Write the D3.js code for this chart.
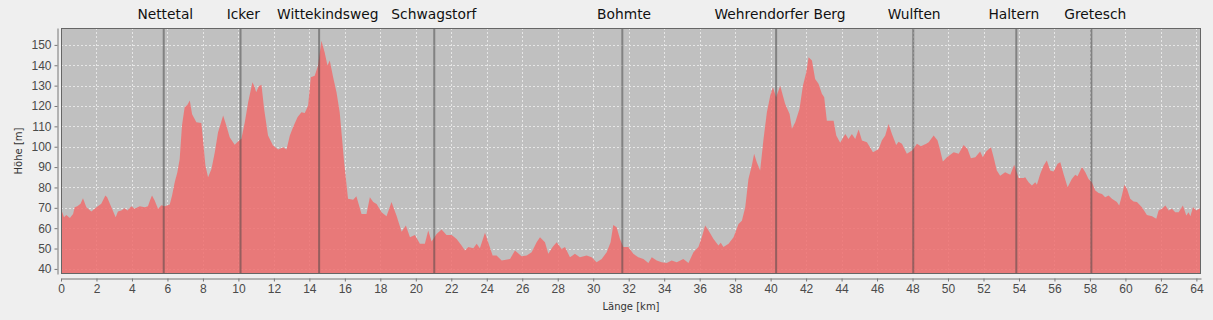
<!DOCTYPE html>
<html>
<head>
<meta charset="utf-8">
<script src="https://cdn.jsdelivr.net/npm/d3@7"></script>
<style>
body { margin: 0; background: #efefef; }
svg { display: block; font-family: "DejaVu Sans", sans-serif; }
.axis text { fill: #4a4a4a; font-size: 12px; }
.axis path, .axis line { stroke: #777; }
</style>
</head>
<body>
<svg width="1213" height="320"></svg>
<script>
var svg = d3.select("svg"),
width = +svg.attr("width"),
height = +svg.attr("height");

// profile: distance [km] / elevation [m]
let km = [0, 0.17, 0.3, 0.5, 0.68, 0.77, 0.92, 1.1, 1.24, 1.43, 1.71, 2.0, 2.27, 2.5, 2.6, 2.84, 3.08, 3.21, 3.4, 3.59, 3.74, 3.97, 4.15, 4.44, 4.72, 4.9, 5.03, 5.13, 5.28, 5.47, 5.66, 5.85, 6.13, 6.26, 6.41, 6.56, 6.69, 6.82, 6.97, 7.12, 7.26, 7.39, 7.63, 7.91, 8.0, 8.14, 8.29, 8.48, 8.67, 8.85, 9.14, 9.32, 9.51, 9.79, 10.04, 10.17, 10.36, 10.55, 10.79, 10.92, 11.0, 11.15, 11.3, 11.45, 11.67, 11.95, 12.24, 12.52, 12.71, 12.9, 13.08, 13.33, 13.55, 13.74, 13.93, 14.08, 14.3, 14.49, 14.68, 14.86, 15.02, 15.15, 15.34, 15.53, 15.71, 15.96, 16.18, 16.47, 16.65, 16.94, 17.22, 17.41, 17.6, 17.79, 18.07, 18.35, 18.63, 18.91, 19.2, 19.44, 19.67, 19.95, 20.23, 20.51, 20.7, 20.89, 21.17, 21.45, 21.73, 22.02, 22.3, 22.58, 22.77, 22.96, 23.24, 23.43, 23.61, 23.9, 24.08, 24.33, 24.55, 24.84, 25.31, 25.59, 25.96, 26.25, 26.53, 26.81, 27.0, 27.28, 27.47, 27.71, 27.94, 28.22, 28.41, 28.69, 28.97, 29.25, 29.63, 29.91, 30.19, 30.48, 30.76, 30.98, 31.13, 31.32, 31.51, 31.7, 31.98, 32.26, 32.54, 32.83, 33.11, 33.3, 33.58, 33.86, 34.14, 34.42, 34.71, 35.08, 35.37, 35.65, 35.93, 36.12, 36.31, 36.5, 36.78, 37.06, 37.19, 37.34, 37.63, 37.91, 38.19, 38.38, 38.57, 38.75, 38.94, 39.07, 39.22, 39.41, 39.6, 39.79, 39.98, 40.13, 40.31, 40.54, 40.82, 41.07, 41.2, 41.39, 41.63, 41.82, 42.01, 42.14, 42.33, 42.51, 42.7, 42.89, 43.02, 43.17, 43.36, 43.55, 43.7, 43.92, 44.21, 44.39, 44.58, 44.77, 44.96, 45.15, 45.43, 45.77, 46.09, 46.27, 46.46, 46.65, 46.84, 47.08, 47.21, 47.4, 47.68, 47.97, 48.25, 48.47, 48.77, 48.91, 49.19, 49.41, 49.56, 49.71, 49.94, 50.32, 50.6, 50.88, 51.1, 51.29, 51.54, 51.81, 51.96, 52.15, 52.42, 52.57, 52.75, 52.94, 53.22, 53.51, 53.73, 53.98, 54.26, 54.35, 54.54, 54.73, 54.92, 55.01, 55.2, 55.39, 55.57, 55.76, 55.95, 56.18, 56.33, 56.51, 56.74, 56.98, 57.17, 57.3, 57.55, 57.74, 57.92, 58.11, 58.3, 58.49, 58.68, 58.86, 59.05, 59.24, 59.52, 59.65, 59.8, 59.94, 60.09, 60.27, 60.46, 60.65, 60.93, 61.21, 61.5, 61.74, 61.87, 62.06, 62.25, 62.44, 62.62, 62.81, 63.0, 63.24, 63.43, 63.56, 63.66, 63.81, 64.0, 64.26];
let elev = [69.5, 65.4, 66.5, 65, 67, 70.3, 70.8, 72, 74.7, 70.3, 68.2, 70.3, 72, 76, 75.2, 70.3, 65.4, 68.2, 68.7, 69.8, 68.7, 70.8, 69.5, 70.8, 70.3, 70.8, 74, 76, 73.6, 69.5, 71.2, 70.8, 71.6, 76, 82.6, 87.5, 94, 110.4, 119.4, 120.5, 122.7, 116, 112, 111.7, 103.9, 90.8, 85, 89, 97.3, 107, 115.3, 110.4, 104.7, 101, 103, 103.9, 112, 121.9, 131.7, 129.2, 126.8, 129.7, 130.4, 118.5, 105.5, 100.6, 98.6, 99.8, 98.6, 105.5, 109.6, 114.5, 116.9, 116.6, 120.2, 134.1, 134.9, 139.9, 152.1, 146.4, 139.9, 142.3, 134.1, 126.8, 116.9, 92.4, 74.4, 74, 75.7, 67, 67, 75.2, 72.8, 71.9, 67.8, 65.9, 72.8, 66.2, 58.3, 61.3, 55.6, 56.7, 52.3, 52.3, 58.8, 53.4, 57.2, 59.3, 56.7, 56.7, 54.7, 51.5, 49, 50.7, 50.2, 52.3, 50.2, 57.7, 53.1, 46.6, 46.6, 44.1, 44.9, 49, 46.2, 46.6, 48.2, 53.1, 55.6, 53.1, 47.4, 50.7, 53.1, 49.8, 50.7, 45.7, 47.4, 45.7, 46.6, 45.7, 43.3, 44.9, 48.2, 53.1, 61.6, 60.5, 54.7, 50.7, 50.7, 47.4, 45.7, 44.9, 42.9, 45.7, 44.1, 43.3, 42.9, 44.1, 43.3, 44.9, 42.9, 48.2, 50.7, 55.6, 61.3, 58.8, 54.7, 51.5, 52.8, 50.7, 52.3, 55.6, 62.1, 63.7, 70.3, 84.2, 90.8, 96.5, 92.4, 88.3, 103.8, 116.9, 125.1, 129.2, 124.3, 130, 121, 116.1, 108.8, 112, 118.6, 130, 136.6, 143.9, 142.3, 133.3, 130.9, 126, 124.3, 112.8, 112.8, 112.8, 105.5, 101.9, 106.3, 103.8, 106.3, 103.8, 108.5, 103, 102.2, 97.3, 98.9, 103, 105.5, 111.2, 106.3, 100.9, 102.5, 101.4, 96.5, 98.1, 101.4, 100.2, 101.4, 102.2, 105.5, 103, 98.1, 92.7, 94.8, 97.3, 96.5, 100.9, 98.9, 94.4, 94.8, 97.6, 94.8, 97.6, 99.8, 94.8, 88.3, 85.8, 87.5, 86.2, 91.1, 84.6, 84.6, 85, 82.6, 80.9, 82.6, 81.3, 86.7, 90.8, 93.2, 88.3, 87.8, 91.6, 92.4, 86.7, 80.1, 84.2, 86.2, 85.5, 90, 87.5, 84.2, 82.6, 78.5, 77.3, 76.8, 75.2, 76, 74.4, 72.8, 71.1, 76, 81.3, 79.3, 74.4, 73.1, 72.8, 70.3, 66.5, 65.9, 64.6, 68.7, 69.5, 71.1, 68.7, 69.5, 67.8, 67.8, 71.1, 66.2, 67.8, 65.9, 70.3, 68.7, 70];

// waypoints: marker position and where the name is centred [km]
let placeNames = ["Nettetal", "Icker", "Wittekindsweg", "Schwagstorf", "Bohmte", "Wehrendorfer Berg", "Wulften", "Haltern", "Gretesch"];
let placeKm = [5.79, 10.12, 14.55, 21.04, 31.64, 40.31, 48.04, 53.85, 58.08];
let placeLabelKm = [5.88, 10.28, 15.04, 21.02, 31.74, 40.53, 48.09, 53.71, 58.3];

let yTicks = d3.range(40, 151, 10);
let xTicks = d3.range(0, 65, 2);

let profile = km.map((k, i) => ({ km: k, elev: elev[i] }));
let places = placeNames.map((n, i) => ({ name: n, km: placeKm[i], labelKm: placeLabelKm[i] }));

let plot = { left: 61, top: 28, right: 1201, bottom: 274 };

let x = d3.scaleLinear().domain([0, 64.26]).range([plot.left, plot.right]);
let y = d3.scaleLinear().domain([37.5, 158.3]).range([plot.bottom, plot.top]);

svg.append("rect")
.attr("width", width).attr("height", height)
.attr("fill", "#efefef");

svg.append("rect")
.attr("x", plot.left).attr("y", plot.top)
.attr("width", plot.right - plot.left).attr("height", plot.bottom - plot.top)
.attr("fill", "#c0c0c0");

// grid
let grid = svg.append("g")
.attr("stroke", "#e6e6e6")
.attr("stroke-dasharray", "2,2")
.attr("stroke-width", 1);
grid.selectAll(".gy").data(yTicks).enter().append("line")
.attr("x1", plot.left).attr("x2", plot.right)
.attr("y1", d => Math.round(y(d)) + 0.5).attr("y2", d => Math.round(y(d)) + 0.5);
grid.selectAll(".gx").data(xTicks).enter().append("line")
.attr("y1", plot.top).attr("y2", plot.bottom)
.attr("x1", d => Math.round(x(d)) + 0.5).attr("x2", d => Math.round(x(d)) + 0.5);

// elevation area
let area = d3.area()
.x(d => x(d.km))
.y0(plot.bottom)
.y1(d => y(d.elev));

svg.append("path")
.datum(profile)
.attr("d", area)
.attr("fill", "#ef6e6e")
.attr("fill-opacity", 0.86);

// waypoint markers
svg.append("g").selectAll("line")
.data(places).enter().append("line")
.attr("x1", d => x(d.km)).attr("x2", d => x(d.km))
.attr("y1", plot.top).attr("y2", plot.bottom)
.attr("stroke", "#444")
.attr("stroke-opacity", 0.5)
.attr("stroke-width", 2);

svg.append("g").selectAll("text")
.data(places).enter().append("text")
.attr("x", d => x(d.labelKm))
.attr("y", 19)
.attr("text-anchor", "middle")
.attr("font-size", "13.8px")
.attr("fill", "#111")
.text(d => d.name);

// plot border
svg.append("rect")
.attr("x", plot.left + 0.5).attr("y", plot.top + 0.5)
.attr("width", plot.right - plot.left - 1).attr("height", plot.bottom - plot.top - 1)
.attr("fill", "none")
.attr("stroke", "#666");

// axes
let yAxis = d3.axisLeft(y).tickValues(yTicks).tickSizeInner(3).tickSizeOuter(0).tickPadding(3);
svg.append("g")
.attr("class", "axis")
.attr("transform", translate(57.5, 0))
.call(yAxis);

let xAxis = d3.axisBottom(x).tickValues(xTicks).tickSizeInner(3).tickSizeOuter(0).tickPadding(3);
svg.append("g")
.attr("class", "axis")
.attr("transform", translate(0, 278.5))
.call(xAxis);

svg.append("text")
.attr("transform", translate(22, 151) + " rotate(-90)")
.attr("text-anchor", "middle")
.attr("font-size", "10px")
.attr("fill", "#333")
.text("Höhe [m]");

svg.append("text")
.attr("x", (plot.left + plot.right) / 2)
.attr("y", 310)
.attr("text-anchor", "middle")
.attr("font-size", "10px")
.attr("fill", "#333")
.text("Länge [km]");

function translate(x, y) {
    return `translate(${x},${y})`;
}
</script>
</body>
</html>
